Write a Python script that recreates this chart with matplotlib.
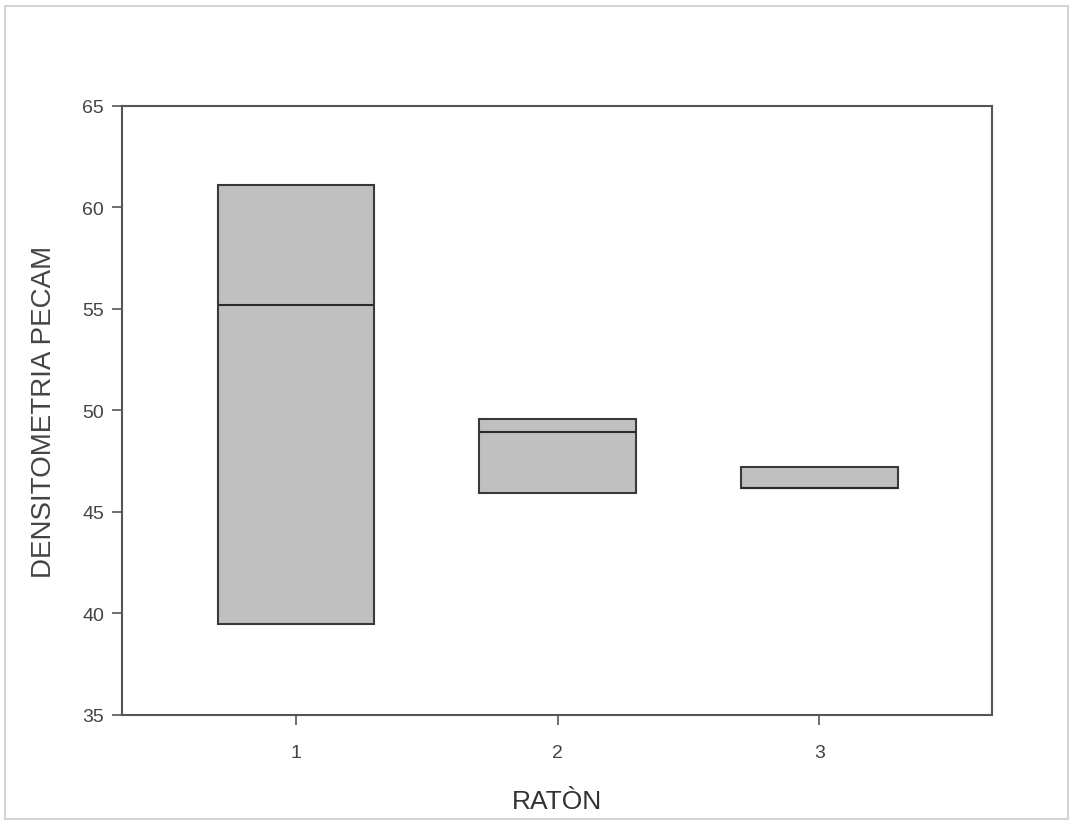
import matplotlib.pyplot as plt
from matplotlib.patches import Rectangle

# datos (cajas: percentil 25, mediana, percentil 75)
ratones = [1, 2, 3]
q1 = [39.5, 45.95, 46.2]
mediana = [55.2, 48.95, 46.2]
q3 = [61.1, 49.6, 47.2]

plt.rcParams['font.family'] = ['Liberation Sans', 'DejaVu Sans']

fig = plt.figure(figsize=(10.73, 8.28), dpi=100)
# marco exterior gris claro
fig.patches.append(Rectangle((0.005, 0.01), 0.99, 0.982, transform=fig.transFigure,
                             fill=False, edgecolor='#d4d4d4', linewidth=1.5))

ax = fig.add_axes([0.1137, 0.1353, 0.8108, 0.7355])

alturas = [b - a for a, b in zip(q1, q3)]
ax.bar(ratones, alturas, bottom=q1, width=0.6, color='#c0c0c0',
       edgecolor='#3a3a3a', linewidth=1.5, zorder=2)
ax.hlines(mediana, [r - 0.3 for r in ratones], [r + 0.3 for r in ratones],
          color='#2a2a2a', linewidth=1.5, zorder=3)

ax.set_xlim(0.335, 3.66)
ax.set_ylim(35, 65)
ax.set_xticks(ratones)
ax.set_yticks(range(35, 66, 5))

for s in ax.spines.values():
    s.set_color('#555555')
    s.set_linewidth(1.5)
ax.tick_params(direction='out', length=7, width=1.2, color='#555555',
               labelsize=14, labelcolor='#444444', pad=6)
ax.tick_params(axis='x', pad=14)

ax.set_xlabel('RATÒN', fontsize=19, color='#333333', labelpad=20)
ax.set_ylabel('DENSITOMETRIA PECAM', fontsize=20, color='#444444', labelpad=18)

fig.savefig('out.png', dpi=100)
